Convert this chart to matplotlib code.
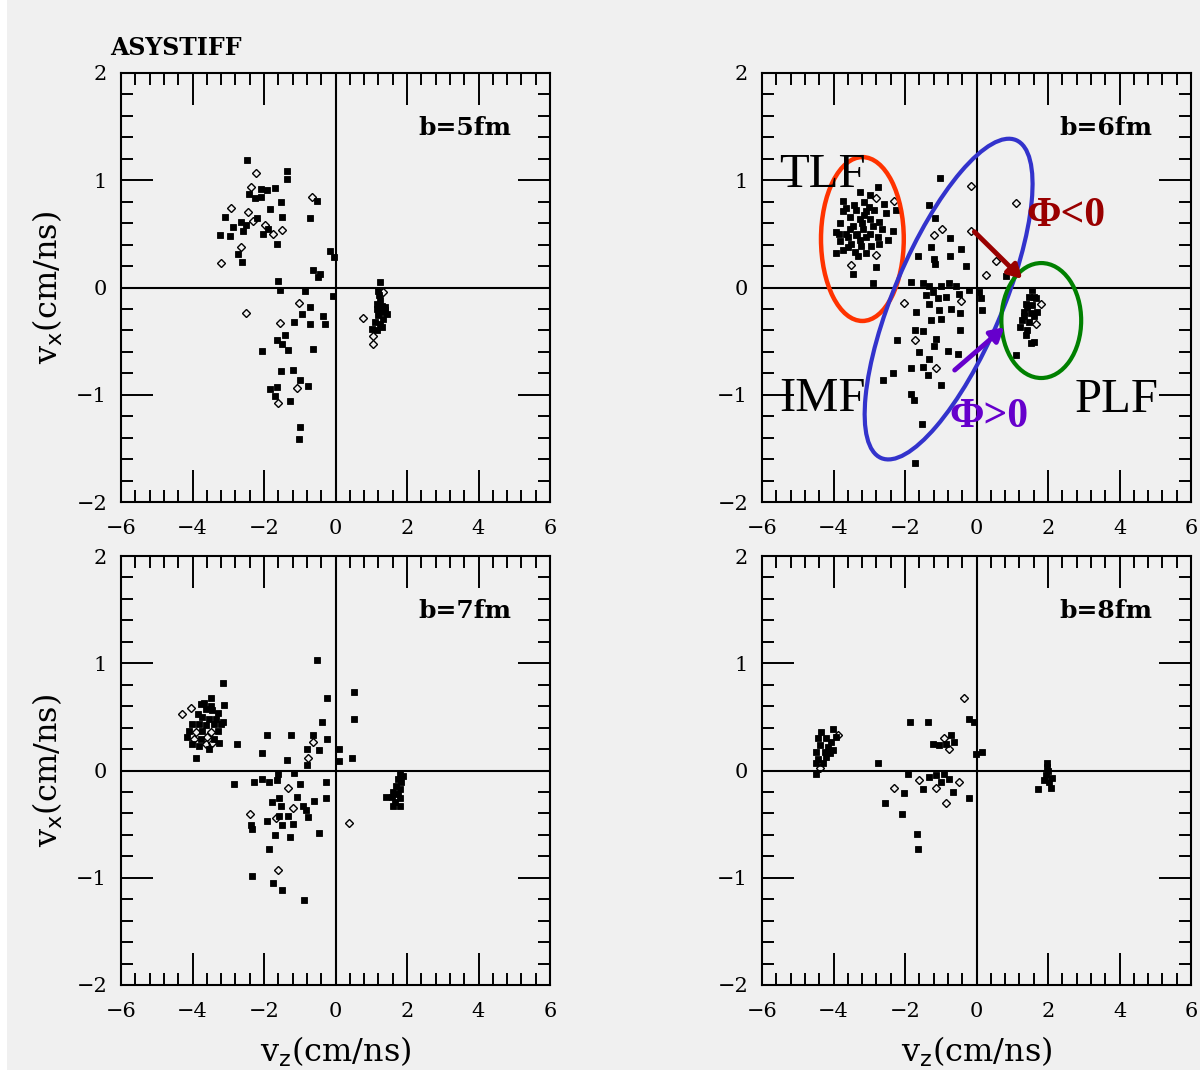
import matplotlib
matplotlib.use("Agg")
import matplotlib.pyplot as plt
from matplotlib.patches import Ellipse, Rectangle
from matplotlib.ticker import MultipleLocator, FixedLocator

# ---------------- data: (v_z, v_x) in cm/ns ----------------
# b = 5 fm
b5_sq_vz = [-2.47, -1.35, -1.35, -2.07, -1.93, -1.70, -2.42, -2.26, -2.07, -1.53, -0.53, -1.84,
            -2.20, -1.51, -3.10, -0.72, -2.64, -2.50, -2.59, -1.89, -2.03, -2.87, -3.24, -2.96,
            -1.63, -2.73, -2.61, -0.15, -0.03, -0.64, -0.44, -0.48, -1.60, -1.56, -0.85, -0.06,
            -0.72, -0.95, -0.34, -0.29, -1.17, -0.72, -1.42, -1.65, -1.51, -1.32, -2.05, -0.64,
            -1.53, -1.20, -1.00, -0.76, -1.84, -1.63, -1.70, -1.28, -1.00, -1.03,
            1.25, 1.20, 1.25, 1.30, 1.39, 1.16, 1.30, 1.44, 1.20, 1.34, 1.11, 1.25, 1.03, 1.16,
            1.30, 1.39, 1.16, 1.23]
b5_sq_vx = [1.19, 1.09, 1.01, 0.92, 0.91, 0.93, 0.87, 0.83, 0.84, 0.80, 0.81, 0.73,
            0.65, 0.66, 0.66, 0.65, 0.61, 0.58, 0.53, 0.55, 0.50, 0.56, 0.49, 0.48,
            0.41, 0.31, 0.24, 0.34, 0.28, 0.16, 0.13, 0.10, 0.06, -0.02, -0.03, -0.08,
            -0.18, -0.25, -0.27, -0.34, -0.32, -0.34, -0.44, -0.49, -0.53, -0.58, -0.59, -0.57,
            -0.78, -0.77, -0.86, -0.92, -0.95, -0.93, -1.01, -1.06, -1.30, -1.41,
            0.05, -0.03, -0.12, -0.17, -0.18, -0.20, -0.23, -0.25, -0.26, -0.29, -0.32, -0.34,
            -0.39, -0.40, -0.37, -0.21, -0.15, -0.07]
b5_dm_vz = [-2.23, -2.37, -0.67, -2.92, -2.45, -2.31, -1.98, -1.75, -1.51, -2.64, -3.20, -1.03,
            -2.50, -1.54, -1.09, -1.60, 1.32, 1.06, 0.78, 1.06]
b5_dm_vx = [1.07, 0.94, 0.84, 0.74, 0.70, 0.62, 0.58, 0.50, 0.54, 0.38, 0.23, -0.14,
            -0.24, -0.33, -0.94, -1.08, -0.04, -0.45, -0.28, -0.53]

# b = 6 fm
b6_sq_vz = [-2.76, -3.27, -2.99, -3.74, -3.16, -2.58, -3.65, -3.37, -3.09, -2.86, -2.53, -2.25,
            -3.55, -3.27, -2.99, -2.72, -3.83, -3.46, -3.18, -2.90, -2.34, -3.93, -3.65, -3.37,
            -3.09, -2.76, -2.48, -3.83, -3.51, -3.23, -2.95, -3.74, -3.41, -3.09, -3.93, -3.32,
            -3.46, -2.81, -2.90, -3.60, -3.27, -2.99, -3.74, -3.44, -2.72, -3.55, -3.20, -3.00,
            -3.60, -3.85, -3.35, -3.15, -2.65,
            -1.01, -1.32, -1.16, -0.73, -1.26, -0.42, -1.65, -1.18, -0.73, -1.16, -0.30, 0.82,
            -1.83, -1.51, -1.32, -1.23, -0.99, -0.76, -0.58, -0.49, -0.86, -1.09, -1.41, -1.32,
            -1.04, -0.72, -0.20, 0.12, 0.07, 0.16, -1.69, -1.27, -0.99, -0.45, -1.72, -1.51,
            -0.46, -2.21, -1.13, -1.18, -0.81, -0.53, -1.60, -1.32, -1.83, -1.51, -1.37, -0.99,
            -2.34, -2.62, -1.83, -1.74, -1.53, -1.72,
            1.56, 1.47, 1.66, 1.38, 1.56, 1.33, 1.52, 1.70, 1.28, 1.47, 1.23, 1.42, 1.38, 1.52,
            1.61, 1.10, 1.61, 1.42, 1.61, 1.33]
b6_sq_vx = [0.94, 0.89, 0.86, 0.81, 0.80, 0.78, 0.74, 0.72, 0.71, 0.72, 0.69, 0.72,
            0.66, 0.64, 0.64, 0.61, 0.60, 0.57, 0.55, 0.57, 0.53, 0.52, 0.50, 0.49,
            0.47, 0.47, 0.44, 0.43, 0.41, 0.39, 0.39, 0.35, 0.33, 0.32, 0.32, 0.29,
            0.13, 0.19, 0.04, 0.47, 0.44, 0.50, 0.71, 0.77, 0.41, 0.55, 0.60, 0.75,
            0.38, 0.50, 0.50, 0.68, 0.55,
            1.02, 0.77, 0.65, 0.46, 0.38, 0.36, 0.29, 0.27, 0.29, 0.22, 0.20, 0.11,
            0.05, 0.04, 0.01, -0.04, 0.01, 0.04, 0.01, -0.06, -0.09, -0.10, -0.07, -0.15,
            -0.21, -0.20, -0.02, -0.10, -0.04, -0.21, -0.23, -0.30, -0.29, -0.24, -0.40, -0.41,
            -0.40, -0.49, -0.48, -0.55, -0.59, -0.62, -0.60, -0.67, -0.75, -0.74, -0.82, -0.91,
            -0.80, -0.86, -0.99, -1.05, -1.27, -1.64,
            -0.02, -0.09, -0.10, -0.15, -0.16, -0.23, -0.24, -0.23, -0.30, -0.32, -0.37, -0.40,
            -0.44, -0.52, -0.51, -0.63, -0.09, -0.18, -0.27, -0.27]
b6_dm_vz = [-2.81, -2.30, -2.81, -3.51, -0.16, 1.10, -0.97, -1.18, -0.15, 0.26, 0.54, -0.44,
            -2.02, -1.72, -1.12, 1.80, 1.66]
b6_dm_vx = [0.83, 0.81, 0.30, 0.21, 0.95, 0.79, 0.55, 0.49, 0.53, 0.12, 0.25, -0.13,
            -0.14, -0.49, -0.75, -0.15, -0.34]

# b = 7 fm
b7_sq_vz = [-0.52, -3.15, -3.12, -3.49, 0.53, -0.24, 0.53, -0.38,
            -3.77, -3.63, -3.45, -3.30, -3.86, -3.73, -3.54, -4.01, -3.82, -3.63, -3.40, -3.21,
            -4.10, -3.73, -3.30, -4.15, -3.77, -3.40, -4.01, -3.82, -3.54, -3.90, -3.26, -3.68,
            -3.49, -3.35, -3.16,
            -2.76, -1.93, -2.06, -1.25, -1.37, -0.64, -0.80, -0.45, -0.23, -0.81, 0.11, 0.09,
            0.46, -1.62, -1.15, -1.65, -2.84, -2.28, -2.06, -1.85, -0.98, -0.26, -1.08, -0.26,
            -0.59, -1.78, -1.57, -1.53, -0.92, -0.83, -0.78, -1.34, -1.57, -1.93, -2.37, -2.34,
            -1.50, -1.18, -0.45, -1.69, -1.27, -1.85, -2.34, -1.74, -1.50, -0.87,
            1.80, 1.75, 1.84, 1.70, 1.80, 1.61, 1.75, 1.42, 1.57, 1.80, 1.66, 1.61, 1.80, 1.89]
b7_sq_vx = [1.03, 0.82, 0.61, 0.68, 0.73, 0.68, 0.48, 0.45,
            0.62, 0.57, 0.56, 0.54, 0.53, 0.50, 0.48, 0.43, 0.43, 0.42, 0.43, 0.43,
            0.37, 0.37, 0.37, 0.31, 0.29, 0.29, 0.25, 0.23, 0.20, 0.12, 0.26, 0.63,
            0.60, 0.48, 0.45,
            0.25, 0.33, 0.16, 0.33, 0.10, 0.33, 0.20, 0.19, 0.29, 0.05, 0.20, 0.09,
            0.12, -0.03, -0.02, -0.09, -0.13, -0.11, -0.08, -0.11, -0.13, -0.11, -0.25, -0.26,
            -0.28, -0.29, -0.26, -0.33, -0.33, -0.37, -0.43, -0.42, -0.42, -0.47, -0.51, -0.55,
            -0.51, -0.50, -0.58, -0.60, -0.62, -0.73, -0.98, -1.05, -1.11, -1.21,
            -0.03, -0.08, -0.11, -0.14, -0.17, -0.20, -0.22, -0.25, -0.25, -0.26, -0.29, -0.33,
            -0.33, -0.05]
b7_dm_vz = [-4.29, -4.05, -3.91, -3.49, -3.96, -3.59, -3.63, -3.45, -0.64, -0.76, -1.32, -1.18,
            -1.67, -2.40, 0.37, -1.60]
b7_dm_vx = [0.53, 0.58, 0.36, 0.36, 0.29, 0.31, 0.25, 0.26, 0.27, 0.12, -0.16, -0.35,
            -0.44, -0.41, -0.49, -0.93]

# b = 8 fm
b8_sq_vz = [-1.85, -1.37, -0.20, -0.08, -0.72, -1.23, -1.04, -0.86, -0.62, -0.02, 0.15, -2.76,
            -1.93, -1.32, -1.13, -0.90, -0.76, -0.99, -2.02, -1.51, -0.67, -0.20, -2.55, -2.08,
            -1.67, -1.65,
            -4.34, -4.02, -4.44, -4.20, -4.07, -4.39, -4.16, -4.48, -4.25, -4.02, -4.44, -4.20,
            -4.48, -4.30, -4.48, -4.11, -3.92,
            1.98, 2.01, 1.94, 2.12, 2.03, 1.89, 2.07, 1.73, 1.98]
b8_sq_vx = [0.45, 0.45, 0.48, 0.45, 0.33, 0.25, 0.24, 0.25, 0.27, 0.15, 0.17, 0.07,
            -0.03, -0.06, -0.04, -0.03, -0.08, -0.11, -0.21, -0.17, -0.20, -0.26, -0.30, -0.41,
            -0.59, -0.73,
            0.36, 0.39, 0.30, 0.30, 0.27, 0.24, 0.22, 0.17, 0.17, 0.19, 0.11, 0.13,
            0.07, 0.07, -0.03, 0.16, 0.31,
            0.07, 0.00, -0.04, -0.07, -0.11, -0.09, -0.16, -0.17, 0.03]
b8_dm_vz = [-0.34, -0.90, -0.76, -1.60, -0.48, -2.30, -1.13, -0.84, -3.88, -4.39]
b8_dm_vx = [0.68, 0.30, 0.20, -0.09, -0.11, -0.16, -0.16, -0.30, 0.33, 0.02]

panel_labels = ["b=5fm", "b=6fm", "b=7fm", "b=8fm"]
x_ticks = [-6, -4, -2, 0, 2, 4, 6]
y_ticks = [-2, -1, 0, 1, 2]
x_label = r"v$_{\rm z}$(cm/ns)"
y_label = r"v$_{\rm x}$(cm/ns)"

panels = [
    (b5_sq_vz, b5_sq_vx, b5_dm_vz, b5_dm_vx),
    (b6_sq_vz, b6_sq_vx, b6_dm_vz, b6_dm_vx),
    (b7_sq_vz, b7_sq_vx, b7_dm_vz, b7_dm_vx),
    (b8_sq_vz, b8_sq_vx, b8_dm_vz, b8_dm_vx),
]

# ---------------- figure ----------------
W, H = 1200, 1075
BG = "#f0f0f0"
fig = plt.figure(figsize=(W / 100, H / 100), dpi=100, facecolor="white")
fig.patches.append(Rectangle((7 / W, 5 / H), 1 - 7 / W, 1 - 5 / H, transform=fig.transFigure,
                             facecolor=BG, edgecolor="none", zorder=-10))

serif = "DejaVu Serif"
axw, axh = 429 / W, 429 / H
lefts = [121 / W, 762 / W]
bottoms = [(H - 502) / H, (H - 985) / H]

axes = []
for i in range(4):
    r, c = divmod(i, 2)
    ax = fig.add_axes([lefts[c], bottoms[r], axw, axh], facecolor=BG)
    sq_x, sq_y, dm_x, dm_y = panels[i]
    ax.plot(sq_x, sq_y, ls="none", marker="s", ms=4.0, mfc="black", mec="black", mew=0.6)
    ax.plot(dm_x, dm_y, ls="none", marker="D", ms=3.8, mfc="none", mec="black", mew=1.0)
    ax.axhline(0, color="black", lw=1.5, zorder=0.5)
    ax.axvline(0, color="black", lw=1.5, zorder=0.5)
    ax.set_xlim(-6, 6)
    ax.set_ylim(-2, 2)
    ax.xaxis.set_major_locator(FixedLocator(x_ticks))
    ax.yaxis.set_major_locator(FixedLocator(y_ticks))
    ax.xaxis.set_minor_locator(MultipleLocator(0.4))
    ax.yaxis.set_minor_locator(MultipleLocator(0.2))
    ax.tick_params(which="both", direction="in", top=True, right=True, width=1.4,
                   labelsize=15, colors="black")
    ax.tick_params(which="major", length=23)
    ax.tick_params(axis="x", which="major", pad=12)
    ax.tick_params(axis="y", which="major", pad=10)
    ax.tick_params(which="minor", length=8.5)
    for lab in ax.get_xticklabels() + ax.get_yticklabels():
        lab.set_family(serif)
    for sp in ax.spines.values():
        sp.set_linewidth(1.5)
    ax.text(0.91, 0.872, panel_labels[i], transform=ax.transAxes, ha="right", va="center",
            family=serif, fontsize=18, fontweight="bold")
    if c == 0:
        ax.set_ylabel(y_label, family=serif, fontsize=23, labelpad=8)
    if r == 1:
        ax.set_xlabel(x_label, family=serif, fontsize=23, labelpad=10)
    axes.append(ax)

fig.text(110 / W, 1 - 48 / H, "ASYSTIFF", family=serif, fontsize=17, fontweight="bold",
         ha="left", va="center")

# ---------------- fragment classification on the b=6fm panel ----------------
ax = axes[1]
ax.add_patch(Ellipse((0.234, 0.613), 0.193, 0.382, transform=ax.transAxes, fill=False,
                     edgecolor="#ff3300", lw=3.2, zorder=5))
ax.add_patch(Ellipse((0.435, 0.473), 0.805, 0.253, angle=67, transform=ax.transAxes,
                     fill=False, edgecolor="#3333cc", lw=3.0, zorder=5))
ax.add_patch(Ellipse((0.651, 0.423), 0.186, 0.268, transform=ax.transAxes, fill=False,
                     edgecolor="#008000", lw=3.0, zorder=5))

tnr = "Liberation Serif"
ax.text(-5.53, 0.94, "TLF", family=tnr, fontsize=35, ha="left", va="baseline", zorder=6)
ax.text(-5.53, -1.156, "IMF", family=tnr, fontsize=35, ha="left", va="baseline", zorder=6)
ax.text(2.74, -1.165, "PLF", family=tnr, fontsize=35, ha="left", va="baseline", zorder=6)
ax.text(1.40, 0.57, "Φ<0", family=tnr, fontsize=30, fontweight="bold", color="#990000",
        ha="left", va="baseline", zorder=6)
ax.text(-0.75, -1.30, "Φ>0", family=tnr, fontsize=30, fontweight="bold", color="#6600cc",
        ha="left", va="baseline", zorder=6)

ax.annotate("", xy=(1.28, 0.08), xytext=(-0.06, 0.52),
            arrowprops=dict(arrowstyle="-|>,head_length=0.8,head_width=0.45", lw=3.5,
                            color="#990000", shrinkA=0, shrinkB=0), zorder=6)
ax.annotate("", xy=(0.78, -0.37), xytext=(-0.61, -0.77),
            arrowprops=dict(arrowstyle="-|>,head_length=0.8,head_width=0.45", lw=3.5,
                            color="#6600cc", shrinkA=0, shrinkB=0), zorder=6)

fig.savefig("out.png", dpi=100, facecolor=fig.get_facecolor())
